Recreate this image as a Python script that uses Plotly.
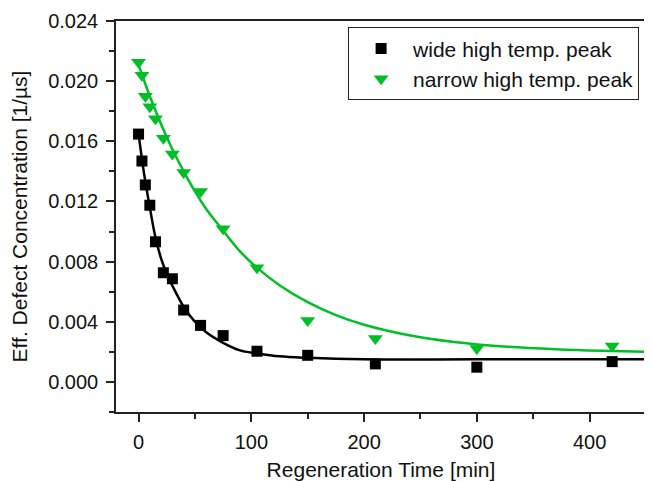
import plotly.graph_objects as go

time_wide = [0, 3, 6, 10, 15, 22, 30, 40, 55, 75, 105, 150, 210, 300, 420]
conc_wide = [0.01648, 0.01469, 0.01310, 0.01175, 0.00932, 0.00726, 0.00686, 0.00478,
             0.00376, 0.00308, 0.00204, 0.00177, 0.00120, 0.00098, 0.00135]

time_narrow = [0, 3, 6, 10, 15, 22, 30, 40, 55, 75, 105, 150, 210, 300, 420]
conc_narrow = [0.02125, 0.0204, 0.0190, 0.0183, 0.0175, 0.0162, 0.01515, 0.01393,
               0.01267, 0.01018, 0.00759, 0.00409, 0.00288, 0.00222, 0.00239]

# Fitted curves
fit_wide_x = [0, 5, 10, 15, 20, 25, 30, 40, 50, 60, 75, 90, 105, 125, 150, 200, 300, 450]
fit_wide_y = [0.0165, 0.0138, 0.0116, 0.0096, 0.0082, 0.0072, 0.0064, 0.0050, 0.0040,
              0.0033, 0.0026, 0.0021, 0.0019, 0.0017, 0.0016, 0.0015, 0.0015, 0.0015]

fit_narrow_x = [0, 10, 20, 30, 40, 50, 60, 75, 90, 105, 125, 150, 175, 200, 240, 280,
                320, 370, 410, 450]
fit_narrow_y = [0.0211, 0.0190, 0.01714, 0.01547, 0.01400, 0.01267, 0.01150, 0.01006,
                0.00868, 0.00760, 0.00643, 0.00530, 0.00444, 0.00380, 0.00310, 0.00265,
                0.00237, 0.00217, 0.00207, 0.00201]

GREEN = "#00BF26"
FONT = "Liberation Sans, Arial, sans-serif"

fig = go.Figure()

# fit lines
fig.add_trace(go.Scatter(x=fit_wide_x, y=fit_wide_y, mode="lines", line_shape="spline",
                         line=dict(color="black", width=2.5), showlegend=False))
fig.add_trace(go.Scatter(x=fit_narrow_x, y=fit_narrow_y, mode="lines", line_shape="spline",
                         line=dict(color=GREEN, width=2.5), showlegend=False))

# data points
fig.add_trace(go.Scatter(x=time_wide, y=conc_wide, mode="markers", name="wide high temp. peak",
                         marker=dict(symbol="square", size=11, color="black")))
fig.add_trace(go.Scatter(x=time_narrow, y=conc_narrow, mode="markers", name="narrow high temp. peak",
                         marker=dict(symbol="triangle-down", size=13, color=GREEN)))

axis_common = dict(
    showline=True, linecolor="#222", linewidth=1.5, mirror=True,
    ticks="outside", ticklen=8, tickwidth=1.5, tickcolor="#222",
    showgrid=False, zeroline=False, automargin=False,
    tickfont=dict(size=20, color="#111", family=FONT),
)

fig.update_xaxes(
    range=[-20, 450], tick0=0, dtick=100, ticklabelstandoff=3,
    minor=dict(ticks="outside", dtick=50, ticklen=5, tickwidth=1.5, tickcolor="#222"),
    title=dict(text="Regeneration Time [min]", font=dict(size=21, color="#111", family=FONT), standoff=14),
    **axis_common
)
fig.update_yaxes(
    range=[-0.002, 0.024], tick0=0, dtick=0.004, tickformat=".3f", ticklabelstandoff=4,
    minor=dict(ticks="outside", dtick=0.002, ticklen=5, tickwidth=1.5, tickcolor="#222"),
    title=dict(text="Eff. Defect Concentration [1/\u00b5s]", font=dict(size=21, color="#111", family=FONT), standoff=23),
    **axis_common
)

# page body has an 8px margin, so the figure is sized/offset to compensate
fig.update_layout(
    width=644, height=473,
    margin=dict(l=108, r=6, t=13, b=69),
    plot_bgcolor="white", paper_bgcolor="white",
    font=dict(family=FONT, color="#111"),
    legend=dict(
        x=0.987, y=0.984, xanchor="right", yanchor="top",
        bordercolor="#222", borderwidth=1, bgcolor="white",
        font=dict(size=21, family=FONT, color="#111"),
        tracegroupgap=0, itemwidth=54,
    ),
)

fig.write_html("out.html")
